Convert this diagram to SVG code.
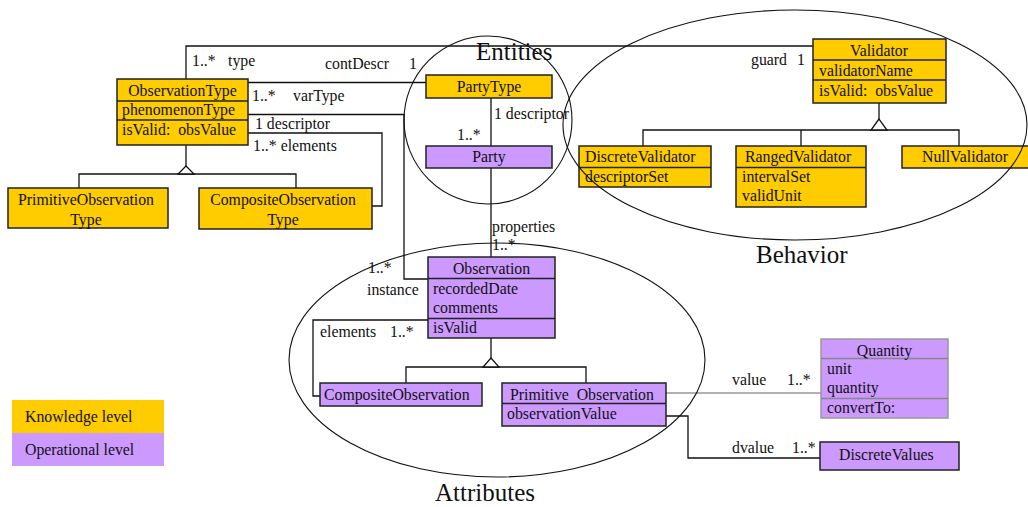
<svg xmlns="http://www.w3.org/2000/svg" width="1028" height="507" viewBox="0 0 1028 507">
  <style>
    .t{font-family:"Liberation Serif","Times New Roman",serif;font-size:15.8px;fill:#111;white-space:pre}
    .c{text-anchor:middle}
    .big{font-size:25px}
    .k{fill:#FFCC00;stroke:#222;stroke-width:1.5}
    .o{fill:#CC99FF;stroke:#222;stroke-width:1.5}
    .q{fill:#CC99FF;stroke:#999;stroke-width:1.5}
    .dv{stroke:#222;stroke-width:1.3}
    .dq{stroke:#888;stroke-width:1.3}
    .ln{fill:none;stroke:#111;stroke-width:1.3}
    .lg{fill:none;stroke:#999;stroke-width:1.3}
    .tri{fill:#fff;stroke:#111;stroke-width:1.3}
    .ring{fill:none;stroke:#111;stroke-width:1.1}
  </style>

  <!-- legend -->
  <g id="legend">
    <rect x="12" y="400" width="152" height="33" fill="#FFCC00"/>
    <rect x="12" y="433" width="152" height="33" fill="#CC99FF"/>
    <text class="t" x="25" y="422">Knowledge level</text>
    <text class="t" x="25" y="455">Operational level</text>
  </g>

  <!-- associations and generalizations -->
  <g id="connectors">
    <path class="ln" d="M186,79 V46 H813"/>
    <path class="ln" d="M248,82.5 H426"/>
    <path class="ln" d="M248,114.5 H404 V279 H428"/>
    <path class="ln" d="M248,133 H382 V206 H372"/>
    <path class="ln" d="M186,145 V166 M79,188 V174 H296 V188"/>
    <polygon class="tri" points="186,166 178,174 194,174"/>
    <path class="ln" d="M491,98 V146"/>
    <path class="ln" d="M491,168 V257"/>
    <path class="ln" d="M879,103 V119 M643,146 V130 H959 V146 M801,130 V146"/>
    <polygon class="tri" points="879,119 871,130 887,130"/>
    <path class="ln" d="M491,338 V358 M406,383 V367 H586 V383"/>
    <polygon class="tri" points="491,358 483,367 499,367"/>
    <path class="ln" d="M428,320 H313 V396 H320"/>
    <path class="lg" d="M666,393 H821"/>
    <path class="ln" d="M666,416 H688 V458 H820"/>

    <text class="t" x="192" y="66">1..*</text>
    <text class="t" x="228" y="66">type</text>
    <text class="t" x="325" y="69">contDescr</text>
    <text class="t" x="409" y="69">1</text>
    <text class="t" x="252" y="101">1..*</text>
    <text class="t" x="293" y="101">varType</text>
    <text class="t" x="255" y="129">1 descriptor</text>
    <text class="t" x="253" y="151">1..* elements</text>
    <text class="t" x="751" y="65">guard</text>
    <text class="t" x="797" y="65">1</text>
    <text class="t" x="494" y="119">1 descriptor</text>
    <text class="t" x="457" y="140">1..*</text>
    <text class="t" x="492" y="232">properties</text>
    <text class="t" x="492" y="250">1..*</text>
    <text class="t" x="368" y="273">1..*</text>
    <text class="t" x="367" y="295">instance</text>
    <text class="t" x="320" y="337">elements</text>
    <text class="t" x="390" y="337">1..*</text>
    <text class="t" x="732" y="385">value</text>
    <text class="t" x="787" y="385">1..*</text>
    <text class="t" x="732" y="453">dvalue</text>
    <text class="t" x="792" y="453">1..*</text>
  </g>

  <!-- knowledge level classes -->
  <g id="ObservationType">
    <rect class="k" x="117" y="79" width="131" height="66"/>
    <path class="dv" d="M117,101 H248 M117,120 H248"/>
    <text class="t c" x="182.5" y="96">ObservationType</text>
    <text class="t" x="122" y="115">phenomenonType</text>
    <text class="t" x="122" y="135">isValid:  obsValue</text>
  </g>
  <g id="PrimitiveObservationType">
    <rect class="k" x="8" y="188" width="160" height="40"/>
    <text class="t c" x="86" y="205">PrimitiveObservation</text>
    <text class="t c" x="86" y="225">Type</text>
  </g>
  <g id="CompositeObservationType">
    <rect class="k" x="199" y="188" width="173" height="41"/>
    <text class="t c" x="283" y="205">CompositeObservation</text>
    <text class="t c" x="283" y="225">Type</text>
  </g>
  <g id="PartyType">
    <rect class="k" x="426" y="75" width="126" height="23"/>
    <text class="t c" x="489" y="92">PartyType</text>
  </g>
  <g id="Validator">
    <rect class="k" x="813" y="39" width="133" height="64"/>
    <path class="dv" d="M813,60 H946 M813,80 H946"/>
    <text class="t c" x="879" y="56">Validator</text>
    <text class="t" x="819" y="75.5">validatorName</text>
    <text class="t" x="819" y="95.5">isValid:  obsValue</text>
  </g>
  <g id="DiscreteValidator">
    <rect class="k" x="579" y="146" width="132" height="41"/>
    <path class="dv" d="M579,167.5 H711"/>
    <text class="t" x="585" y="162">DiscreteValidator</text>
    <text class="t" x="585" y="182">descriptorSet</text>
  </g>
  <g id="RangedValidator">
    <rect class="k" x="736" y="146" width="130" height="61"/>
    <path class="dv" d="M736,167.5 H866"/>
    <text class="t" x="745" y="162">RangedValidator</text>
    <text class="t" x="742" y="182">intervalSet</text>
    <text class="t" x="742" y="201">validUnit</text>
  </g>
  <g id="NullValidator">
    <rect class="k" x="902" y="146" width="127" height="22"/>
    <text class="t" x="922" y="162">NullValidator</text>
  </g>

  <!-- operational level classes -->
  <g id="Party">
    <rect class="o" x="426" y="146" width="126" height="22"/>
    <text class="t c" x="489" y="162">Party</text>
  </g>
  <g id="Observation">
    <rect class="o" x="428" y="257" width="127" height="81"/>
    <path class="dv" d="M428,278.5 H555 M428,318.5 H555"/>
    <text class="t c" x="491.5" y="274">Observation</text>
    <text class="t" x="433" y="294">recordedDate</text>
    <text class="t" x="433" y="313">comments</text>
    <text class="t" x="433" y="333">isValid</text>
  </g>
  <g id="CompositeObservation">
    <rect class="o" x="320" y="383" width="162" height="23"/>
    <text class="t" x="324" y="400">CompositeObservation</text>
  </g>
  <g id="PrimitiveObservation">
    <rect class="o" x="502" y="383" width="164" height="43"/>
    <path class="dv" d="M502,403.5 H666"/>
    <text class="t" x="510" y="400">Primitive  Observation</text>
    <text class="t" x="507" y="419">observationValue</text>
  </g>
  <g id="Quantity">
    <rect class="q" x="821" y="339" width="127" height="79"/>
    <path class="dq" d="M821,358.5 H948 M821,398.5 H948"/>
    <text class="t c" x="884.5" y="356">Quantity</text>
    <text class="t" x="827" y="374">unit</text>
    <text class="t" x="827" y="393">quantity</text>
    <text class="t" x="827" y="413">convertTo:</text>
  </g>
  <g id="DiscreteValues">
    <rect class="o" x="820" y="442" width="139" height="28"/>
    <text class="t" x="839" y="460">DiscreteValues</text>
  </g>

  <!-- grouping outlines -->
  <g id="groups">
    <circle class="ring" cx="488" cy="120" r="84"/>
    <ellipse class="ring" cx="795" cy="125" rx="232" ry="115"/>
    <ellipse class="ring" cx="497" cy="360" rx="208" ry="117"/>
    <text class="t big" x="476" y="60">Entities</text>
    <text class="t big" x="756" y="263">Behavior</text>
    <text class="t big" x="435" y="501">Attributes</text>
  </g>
</svg>
